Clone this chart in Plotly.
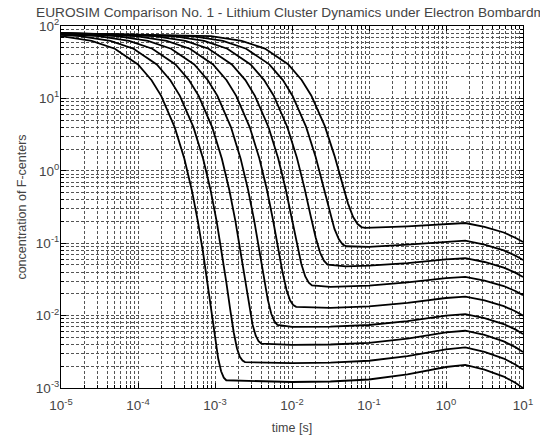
import plotly.graph_objects as go

# ---- data (time in s, concentration of F-centers) ----
# curve index 0 = leftmost / lowest plateau ... 8 = rightmost / highest plateau
plateau_t = [0.01, 0.0316, 0.1, 0.316, 1.0, 1.78, 3.16, 5.62, 7.94, 10.0]

t0 = [1e-5, 2.5e-5, 5e-5, 1e-4, 1.5e-4, 2e-4, 3e-4, 4e-4, 5e-4, 6e-4, 7e-4, 8e-4, 9e-4,
      1.0e-3, 1.1e-3, 1.2e-3, 1.3e-3, 1.4e-3] + plateau_t
c0 = [72.4, 62.3, 48.5, 29.4, 17.85, 10.83, 3.98, 1.466, 0.540, 0.199, 0.0742, 0.0280, 0.0111,
      0.00484, 0.00255, 0.00170, 0.00139, 0.00128,
      1.21e-3, 1.23e-3, 1.31e-3, 1.54e-3, 1.95e-3, 2.08e-3, 1.79e-3, 1.44e-3, 1.18e-3, 1.00e-3]

t1 = [1e-5, 1.75e-5, 4.38e-5, 8.76e-5, 1.752e-4, 2.63e-4, 3.50e-4, 5.26e-4, 7.01e-4, 8.76e-4,
      1.051e-3, 1.226e-3, 1.402e-3, 1.577e-3, 1.752e-3, 1.927e-3, 2.10e-3, 2.28e-3, 2.45e-3] + plateau_t
c1 = [75.6, 72.4, 62.3, 48.5, 29.4, 17.85, 10.83, 3.98, 1.467, 0.541,
      0.200, 0.0752, 0.0290, 0.0121, 0.00584, 0.00355, 0.00270, 0.00239, 0.00228,
      2.21e-3, 2.24e-3, 2.38e-3, 2.76e-3, 3.42e-3, 3.63e-3, 3.15e-3, 2.55e-3, 2.11e-3, 1.80e-3]

t2 = [1e-5, 3.07e-5, 7.68e-5, 1.535e-4, 3.07e-4, 4.61e-4, 6.14e-4, 9.21e-4, 1.228e-3, 1.535e-3,
      1.842e-3, 2.149e-3, 2.456e-3, 2.763e-3, 3.07e-3, 3.38e-3, 3.68e-3, 3.99e-3] + plateau_t
c2 = [77.4, 72.4, 62.3, 48.5, 29.4, 17.85, 10.83, 3.98, 1.469, 0.543,
      0.202, 0.0769, 0.0307, 0.0138, 0.00756, 0.00527, 0.00442, 0.00411,
      3.93e-3, 3.99e-3, 4.21e-3, 4.82e-3, 5.86e-3, 6.18e-3, 5.40e-3, 4.41e-3, 3.67e-3, 3.14e-3]

t3 = [1e-5, 5.38e-5, 1.345e-4, 2.69e-4, 5.38e-4, 8.07e-4, 1.076e-3, 1.614e-3, 2.152e-3, 2.69e-3,
      3.23e-3, 3.77e-3, 4.30e-3, 4.84e-3, 5.38e-3, 5.92e-3, 6.46e-3] + plateau_t
c3 = [78.5, 72.4, 62.3, 48.5, 29.4, 17.86, 10.84, 3.99, 1.472, 0.546,
      0.205, 0.0800, 0.0338, 0.0168, 0.0106, 0.00831, 0.00746,
      6.97e-3, 7.06e-3, 7.42e-3, 8.38e-3, 1.00e-2, 1.05e-2, 9.26e-3, 7.65e-3, 6.45e-3, 5.58e-3]

t4 = [1e-5, 9.43e-5, 2.36e-4, 4.72e-4, 9.43e-4, 1.415e-3, 1.886e-3, 2.83e-3, 3.77e-3, 4.72e-3,
      5.66e-3, 6.60e-3, 7.54e-3, 8.49e-3, 9.43e-3, 1.037e-2, 1.132e-2] + plateau_t[1:]
c4 = [79.2, 72.4, 62.3, 48.5, 29.4, 17.86, 10.84, 3.99, 1.478, 0.552,
      0.211, 0.0857, 0.0395, 0.0226, 0.0163, 0.0140, 0.0132,
      1.28e-2, 1.34e-2, 1.50e-2, 1.75e-2, 1.83e-2, 1.62e-2, 1.35e-2, 1.15e-2, 1.00e-2]

t5 = [1e-5, 1.652e-4, 4.13e-4, 8.26e-4, 1.652e-3, 2.48e-3, 3.30e-3, 4.96e-3, 6.61e-3, 8.26e-3,
      9.91e-3, 1.156e-2, 1.322e-2, 1.487e-2, 1.652e-2, 1.817e-2] + plateau_t[1:]
c5 = [79.5, 72.4, 62.3, 48.5, 29.4, 17.87, 10.85, 4.00, 1.49, 0.564,
      0.223, 0.0978, 0.0516, 0.0347, 0.0284, 0.0261,
      2.50e-2, 2.60e-2, 2.87e-2, 3.29e-2, 3.42e-2, 3.05e-2, 2.56e-2, 2.19e-2, 1.92e-2]

t6 = [1e-5, 2.90e-4, 7.24e-4, 1.448e-3, 2.895e-3, 4.34e-3, 5.79e-3, 8.69e-3, 1.158e-2, 1.448e-2,
      1.737e-2, 2.03e-2, 2.32e-2, 2.61e-2, 2.90e-2, 0.05] + plateau_t[2:]
c6 = [79.7, 72.4, 62.3, 48.5, 29.5, 17.9, 10.88, 4.03, 1.51, 0.586,
      0.245, 0.120, 0.0737, 0.0568, 0.0505, 0.0479,
      4.89e-2, 5.32e-2, 5.99e-2, 6.20e-2, 5.50e-2, 4.60e-2, 3.92e-2, 3.41e-2]

t7 = [1e-5, 5.07e-4, 1.268e-3, 2.54e-3, 5.07e-3, 7.61e-3, 1.014e-2, 1.521e-2, 2.03e-2, 2.54e-2,
      3.04e-2, 3.55e-2, 4.06e-2, 4.56e-2, 5.07e-2] + plateau_t[2:]
c7 = [79.8, 72.4, 62.4, 48.6, 29.5, 17.9, 10.91, 4.07, 1.55, 0.625,
      0.284, 0.159, 0.113, 0.0957, 0.0907,
      8.89e-2, 9.54e-2, 0.1055, 0.1085, 0.0959, 0.0797, 0.0675, 0.0586]

t8 = [1e-5, 8.89e-4, 2.22e-3, 4.45e-3, 8.89e-3, 1.334e-2, 1.778e-2, 2.67e-2, 3.56e-2, 4.45e-2,
      5.33e-2, 6.22e-2, 7.11e-2, 8.00e-2, 8.89e-2] + plateau_t[3:]
c8 = [79.9, 72.5, 62.5, 48.7, 29.6, 18.0, 10.99, 4.14, 1.62, 0.696,
      0.355, 0.230, 0.184, 0.167, 0.163,
      0.171, 0.186, 0.190, 0.168, 0.1405, 0.119, 0.1038]

curves = [(t0, c0), (t1, c1), (t2, c2), (t3, c3), (t4, c4),
          (t5, c5), (t6, c6), (t7, c7), (t8, c8)]

x_tickvals = [1e-5, 1e-4, 1e-3, 1e-2, 1e-1, 1e0, 1e1]
x_ticktext = ["10<sup>-5</sup>", "10<sup>-4</sup>", "10<sup>-3</sup>", "10<sup>-2</sup>",
              "10<sup>-1</sup>", "10<sup>0</sup>", "10<sup>1</sup>"]
y_tickvals = [1e-3, 1e-2, 1e-1, 1e0, 1e1, 1e2]
y_ticktext = ["10<sup>-3</sup>", "10<sup>-2</sup>", "10<sup>-1</sup>",
              "10<sup>0</sup>", "10<sup>1</sup>", "10<sup>2</sup>"]

title_text = "EUROSIM Comparison No. 1 - Lithium Cluster Dynamics under Electron Bombardment"
x_title = "time [s]"
y_title = "concentration of F-centers"

# ---- figure ----
fig = go.Figure()
for t, c in curves:
    fig.add_trace(go.Scatter(x=t, y=c, mode="lines",
                             line=dict(color="black", width=1.8),
                             showlegend=False, hoverinfo="skip"))


def minor_vals(lo, hi):
    vals = []
    for e in range(lo, hi):
        for m in range(2, 10):
            vals.append(m * 10.0 ** e)
    return vals


grid_col = "#555555"
font_col = "#444444"

common = dict(type="log", showline=True, linecolor="black", linewidth=1, mirror="ticks",
              ticks="inside", ticklen=5, tickcolor="black", automargin=False,
              showgrid=True, gridcolor=grid_col, gridwidth=1, griddash="3px,2px",
              zeroline=False, tickfont=dict(family="Liberation Sans", size=13.5, color=font_col))

fig.update_xaxes(range=[-5, 1], tickvals=x_tickvals, ticktext=x_ticktext, ticklabelstandoff=5,
                 title=dict(text=x_title, font=dict(family="Liberation Sans", size=12.5, color=font_col),
                            standoff=11),
                 minor=dict(tickvals=minor_vals(-5, 1), ticks="inside", ticklen=3, tickcolor="black",
                            showgrid=True, gridcolor=grid_col, gridwidth=1, griddash="3px,2px"),
                 **common)
fig.update_yaxes(range=[-3, 2], tickvals=y_tickvals, ticktext=y_ticktext, ticklabelstandoff=-2,
                 title=dict(text=y_title, font=dict(family="Liberation Sans", size=12.5, color=font_col),
                            standoff=6),
                 minor=dict(tickvals=minor_vals(-3, 2), ticks="inside", ticklen=3, tickcolor="black",
                            showgrid=True, gridcolor=grid_col, gridwidth=1, griddash="3px,2px"),
                 **common)

fig.update_layout(
    width=540, height=438,
    margin=dict(l=61, r=17, t=26, b=50, autoexpand=False),
    paper_bgcolor="white", plot_bgcolor="white",
    title=dict(text=title_text, x=300 / 540, xanchor="center",
               y=1 - 12 / 438, yanchor="middle",
               font=dict(family="Liberation Sans", size=13.7, color=font_col)),
)

fig.write_html("out.html", config={"displayModeBar": False},
               post_script="document.body.style.margin='0';document.body.style.overflow='hidden';")
